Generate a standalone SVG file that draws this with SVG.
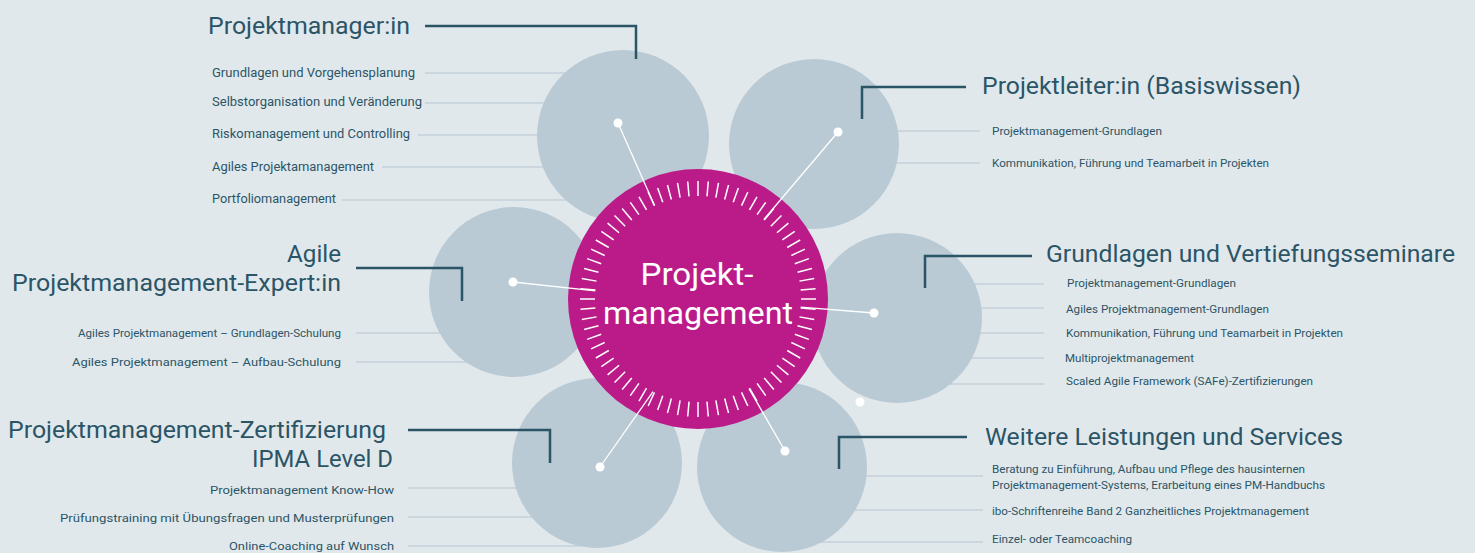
<svg xmlns="http://www.w3.org/2000/svg" width="1475" height="553" viewBox="0 0 1475 553">
<style>
.bg{fill:#e1e8ec}
.bubble{fill:#b9cad4}
.hub{fill:#bb1a89}
.item-line{stroke:#c3d1da;stroke-width:1.5;fill:none}
.leader{stroke:#2b5566;stroke-width:2.5;fill:none}
.spoke{stroke:#ffffff;stroke-width:1.3;fill:none}
.dot{fill:#ffffff}
.title{font-family:Roboto,"Liberation Sans",sans-serif;font-size:24px;fill:#2b5566}
.item{font-family:Roboto,"Liberation Sans",sans-serif;font-size:11.5px;fill:#2b5566}
.item12{font-family:Roboto,"Liberation Sans",sans-serif;font-size:12px;fill:#2b5566}
.hubtext{font-family:Roboto,"Liberation Sans",sans-serif;font-size:31px;fill:#ffffff}
.tick{stroke:#ffffff;stroke-width:1.5}
</style>
<defs>
<line id="tk" x1="0" y1="-103" x2="0" y2="-118" class="tick"/>
</defs>
<rect class="bg" x="0" y="0" width="1475" height="553"/>

<g id="connectors">
  <!-- item lines (behind bubbles) -->
  <line class="item-line" x1="425" y1="73" x2="600" y2="73"/>
  <line class="item-line" x1="425" y1="103" x2="600" y2="103"/>
  <line class="item-line" x1="418" y1="135" x2="600" y2="135"/>
  <line class="item-line" x1="382" y1="167" x2="600" y2="167"/>
  <line class="item-line" x1="342" y1="200" x2="600" y2="200"/>

  <line class="item-line" x1="850" y1="131" x2="980" y2="131"/>
  <line class="item-line" x1="850" y1="163" x2="980" y2="163"/>

  <line class="item-line" x1="356" y1="333" x2="500" y2="333"/>
  <line class="item-line" x1="356" y1="362" x2="500" y2="362"/>

  <line class="item-line" x1="930" y1="284" x2="1044" y2="284"/>
  <line class="item-line" x1="930" y1="308" x2="1044" y2="308"/>
  <line class="item-line" x1="930" y1="333" x2="1044" y2="333"/>
  <line class="item-line" x1="930" y1="358" x2="1044" y2="358"/>
  <line class="item-line" x1="930" y1="384" x2="1044" y2="384"/>

  <line class="item-line" x1="408" y1="488" x2="580" y2="488"/>
  <line class="item-line" x1="408" y1="517" x2="580" y2="517"/>
  <line class="item-line" x1="408" y1="546" x2="580" y2="546"/>

  <line class="item-line" x1="800" y1="476" x2="983" y2="476"/>
  <line class="item-line" x1="800" y1="510" x2="983" y2="510"/>
  <line class="item-line" x1="800" y1="542" x2="983" y2="542"/>
</g>

<g id="bubbles">
  <circle class="bubble" cx="623" cy="136" r="86"/>
  <circle class="bubble" cx="814" cy="144" r="85"/>
  <circle class="bubble" cx="514" cy="292" r="85"/>
  <circle class="bubble" cx="897" cy="318" r="85"/>
  <circle class="bubble" cx="597" cy="463" r="85"/>
  <circle class="bubble" cx="782" cy="467" r="85"/>
</g>

<g id="hub">
  <circle class="hub" cx="698" cy="299" r="130"/>
  <g transform="translate(698 299)">
    <use href="#tk" transform="rotate(0)"/><use href="#tk" transform="rotate(5)"/><use href="#tk" transform="rotate(10)"/><use href="#tk" transform="rotate(15)"/><use href="#tk" transform="rotate(20)"/><use href="#tk" transform="rotate(25)"/><use href="#tk" transform="rotate(30)"/><use href="#tk" transform="rotate(35)"/><use href="#tk" transform="rotate(40)"/><use href="#tk" transform="rotate(45)"/><use href="#tk" transform="rotate(50)"/><use href="#tk" transform="rotate(55)"/>
    <use href="#tk" transform="rotate(60)"/><use href="#tk" transform="rotate(65)"/><use href="#tk" transform="rotate(70)"/><use href="#tk" transform="rotate(75)"/><use href="#tk" transform="rotate(80)"/><use href="#tk" transform="rotate(85)"/><use href="#tk" transform="rotate(90)"/><use href="#tk" transform="rotate(95)"/><use href="#tk" transform="rotate(100)"/><use href="#tk" transform="rotate(105)"/><use href="#tk" transform="rotate(110)"/><use href="#tk" transform="rotate(115)"/>
    <use href="#tk" transform="rotate(120)"/><use href="#tk" transform="rotate(125)"/><use href="#tk" transform="rotate(130)"/><use href="#tk" transform="rotate(135)"/><use href="#tk" transform="rotate(140)"/><use href="#tk" transform="rotate(145)"/><use href="#tk" transform="rotate(150)"/><use href="#tk" transform="rotate(155)"/><use href="#tk" transform="rotate(160)"/><use href="#tk" transform="rotate(165)"/><use href="#tk" transform="rotate(170)"/><use href="#tk" transform="rotate(175)"/>
    <use href="#tk" transform="rotate(180)"/><use href="#tk" transform="rotate(185)"/><use href="#tk" transform="rotate(190)"/><use href="#tk" transform="rotate(195)"/><use href="#tk" transform="rotate(200)"/><use href="#tk" transform="rotate(205)"/><use href="#tk" transform="rotate(210)"/><use href="#tk" transform="rotate(215)"/><use href="#tk" transform="rotate(220)"/><use href="#tk" transform="rotate(225)"/><use href="#tk" transform="rotate(230)"/><use href="#tk" transform="rotate(235)"/>
    <use href="#tk" transform="rotate(240)"/><use href="#tk" transform="rotate(245)"/><use href="#tk" transform="rotate(250)"/><use href="#tk" transform="rotate(255)"/><use href="#tk" transform="rotate(260)"/><use href="#tk" transform="rotate(265)"/><use href="#tk" transform="rotate(270)"/><use href="#tk" transform="rotate(275)"/><use href="#tk" transform="rotate(280)"/><use href="#tk" transform="rotate(285)"/><use href="#tk" transform="rotate(290)"/><use href="#tk" transform="rotate(295)"/>
    <use href="#tk" transform="rotate(300)"/><use href="#tk" transform="rotate(305)"/><use href="#tk" transform="rotate(310)"/><use href="#tk" transform="rotate(315)"/><use href="#tk" transform="rotate(320)"/><use href="#tk" transform="rotate(325)"/><use href="#tk" transform="rotate(330)"/><use href="#tk" transform="rotate(335)"/><use href="#tk" transform="rotate(340)"/><use href="#tk" transform="rotate(345)"/><use href="#tk" transform="rotate(350)"/><use href="#tk" transform="rotate(355)"/>
  </g>
  <text class="hubtext" x="697" y="285" text-anchor="middle" textLength="113" lengthAdjust="spacingAndGlyphs">Projekt-</text>
  <text class="hubtext" x="698" y="324" text-anchor="middle" textLength="190" lengthAdjust="spacingAndGlyphs">management</text>
</g>

<g id="spokes">
  <line class="spoke" x1="654.5" y1="205.6" x2="618" y2="123"/>
  <line class="spoke" x1="763.9" y1="219.5" x2="838" y2="132"/>
  <line class="spoke" x1="595.3" y1="290.8" x2="513" y2="282"/>
  <line class="spoke" x1="800.7" y1="307.2" x2="874" y2="313"/>
  <line class="spoke" x1="653.0" y1="391.7" x2="600" y2="467"/>
  <line class="spoke" x1="749.0" y1="388.6" x2="785" y2="451"/>
  <circle class="dot" cx="618" cy="123" r="4.5"/>
  <circle class="dot" cx="838" cy="132" r="4.5"/>
  <circle class="dot" cx="513" cy="282" r="4.5"/>
  <circle class="dot" cx="874" cy="313" r="4.5"/>
  <circle class="dot" cx="600" cy="467" r="4.5"/>
  <circle class="dot" cx="785" cy="451" r="4.5"/>
  <circle class="dot" cx="860" cy="402" r="4.5"/>
</g>

<g id="leaders">
  <polyline class="leader" points="425,26 636,26 636,59"/>
  <polyline class="leader" points="966,87 862,87 862,119"/>
  <polyline class="leader" points="356,268 462,268 462,301"/>
  <polyline class="leader" points="1032,256 925,256 925,288"/>
  <polyline class="leader" points="408,430 550,430 550,463"/>
  <polyline class="leader" points="967,437 839,437 839,469"/>
</g>

<g id="node-projektmanager">
  <text class="title" x="208" y="34" textLength="202" lengthAdjust="spacingAndGlyphs">Projektmanager:in</text>
  <text class="item12" x="212" y="77" textLength="203" lengthAdjust="spacingAndGlyphs">Grundlagen und Vorgehensplanung</text>
  <text class="item12" x="212" y="106" textLength="210" lengthAdjust="spacingAndGlyphs">Selbstorganisation und Veränderung</text>
  <text class="item12" x="212" y="138" textLength="198" lengthAdjust="spacingAndGlyphs">Riskomanagement und Controlling</text>
  <text class="item12" x="212" y="171" textLength="162" lengthAdjust="spacingAndGlyphs">Agiles Projektamanagement</text>
  <text class="item12" x="212" y="203" textLength="124" lengthAdjust="spacingAndGlyphs">Portfoliomanagement</text>
</g>

<g id="node-projektleiter">
  <text class="title" x="982" y="94" textLength="319" lengthAdjust="spacingAndGlyphs">Projektleiter:in (Basiswissen)</text>
  <text class="item" x="992" y="135" textLength="170" lengthAdjust="spacingAndGlyphs">Projektmanagement-Grundlagen</text>
  <text class="item" x="992" y="167" textLength="277" lengthAdjust="spacingAndGlyphs">Kommunikation, Führung und Teamarbeit in Projekten</text>
</g>

<g id="node-agile">
  <text class="title" x="341" y="262" text-anchor="end" textLength="54" lengthAdjust="spacingAndGlyphs">Agile</text>
  <text class="title" x="341" y="291" text-anchor="end" textLength="329" lengthAdjust="spacingAndGlyphs">Projektmanagement-Expert:in</text>
  <text class="item" x="341" y="337" text-anchor="end" textLength="263" lengthAdjust="spacingAndGlyphs">Agiles Projektmanagement – Grundlagen-Schulung</text>
  <text class="item" x="341" y="366" text-anchor="end" textLength="269" lengthAdjust="spacingAndGlyphs">Agiles Projektmanagement – Aufbau-Schulung</text>
</g>

<g id="node-grundlagen">
  <text class="title" x="1046" y="262" textLength="409" lengthAdjust="spacingAndGlyphs">Grundlagen und Vertiefungsseminare</text>
  <text class="item" x="1067" y="287" textLength="169" lengthAdjust="spacingAndGlyphs">Projektmanagement-Grundlagen</text>
  <text class="item" x="1066" y="313" textLength="203" lengthAdjust="spacingAndGlyphs">Agiles Projektmanagement-Grundlagen</text>
  <text class="item" x="1066" y="337" textLength="277" lengthAdjust="spacingAndGlyphs">Kommunikation, Führung und Teamarbeit in Projekten</text>
  <text class="item" x="1065" y="362" textLength="129" lengthAdjust="spacingAndGlyphs">Multiprojektmanagement</text>
  <text class="item" x="1066" y="385" textLength="247" lengthAdjust="spacingAndGlyphs">Scaled Agile Framework (SAFe)-Zertifizierungen</text>
</g>

<g id="node-zertifizierung">
  <text class="title" x="8" y="438" textLength="378" lengthAdjust="spacingAndGlyphs">Projektmanagement-Zertifizierung</text>
  <text class="title" x="393" y="467" text-anchor="end" textLength="141" lengthAdjust="spacingAndGlyphs">IPMA Level D</text>
  <text class="item" x="394" y="494" text-anchor="end" textLength="184" lengthAdjust="spacingAndGlyphs">Projektmanagement Know-How</text>
  <text class="item" x="394" y="522" text-anchor="end" textLength="334" lengthAdjust="spacingAndGlyphs">Prüfungstraining mit Übungsfragen und Musterprüfungen</text>
  <text class="item" x="394" y="550" text-anchor="end" textLength="165" lengthAdjust="spacingAndGlyphs">Online-Coaching auf Wunsch</text>
</g>

<g id="node-weitere">
  <text class="title" x="985" y="445" textLength="358" lengthAdjust="spacingAndGlyphs">Weitere Leistungen und Services</text>
  <text class="item" x="992" y="473" textLength="313" lengthAdjust="spacingAndGlyphs">Beratung zu Einführung, Aufbau und Pflege des hausinternen</text>
  <text class="item" x="992" y="489" textLength="333" lengthAdjust="spacingAndGlyphs">Projektmanagement-Systems, Erarbeitung eines PM-Handbuchs</text>
  <text class="item" x="992" y="515" textLength="317" lengthAdjust="spacingAndGlyphs">ibo-Schriftenreihe Band 2 Ganzheitliches Projektmanagement</text>
  <text class="item" x="992" y="543" textLength="140" lengthAdjust="spacingAndGlyphs">Einzel- oder Teamcoaching</text>
</g>
</svg>
